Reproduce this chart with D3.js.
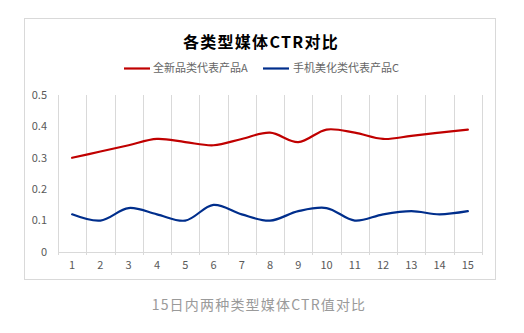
<!DOCTYPE html>
<html><head><meta charset="utf-8">
<script src="https://cdn.jsdelivr.net/npm/d3@7"></script>
<style>body{margin:0;background:#fff;}svg{display:block;}</style>
</head><body>
<script>
const categories = ["1","2","3","4","5","6","7","8","9","10","11","12","13","14","15"];
const seriesA = [0.30,0.32,0.34,0.36,0.35,0.34,0.36,0.38,0.35,0.39,0.38,0.36,0.37,0.38,0.39];
const seriesC = [0.12,0.10,0.14,0.12,0.10,0.15,0.12,0.10,0.13,0.14,0.10,0.12,0.13,0.12,0.13];
const seriesNames = ["全新品类代表产品A","手机美化类代表产品C"];
const yTicks = [0,0.1,0.2,0.3,0.4,0.5];
const title = "各类型媒体CTR对比";
const caption = "15日内两种类型媒体CTR值对比";
const colors = ["#C00000","#002E8C"];

const W=524,H=333;
const svg=d3.select("body").append("svg").attr("width",W).attr("height",H);
const font="'Microsoft YaHei','Noto Sans CJK SC',sans-serif";
svg.append("rect").attr("x",24.5).attr("y",18.5).attr("width",471).attr("height",261)
  .attr("fill","#fff").attr("stroke","#d9d9d9");

const plot={left:58,right:482,top:95,bottom:252};
const x=d3.scaleBand().domain(categories).range([plot.left,plot.right]);
const y=d3.scaleLinear().domain([0,0.5]).range([plot.bottom,plot.top]);

// vertical gridlines at category boundaries
const bounds=categories.map(c=>x(c)).concat([plot.right]);
svg.append("g").selectAll("line").data(bounds).join("line")
  .attr("x1",d=>Math.round(d)+0.5).attr("x2",d=>Math.round(d)+0.5)
  .attr("y1",plot.top).attr("y2",plot.bottom+3)
  .attr("stroke","#d9d9d9").attr("stroke-width",1);
svg.append("line").attr("x1",plot.left).attr("x2",plot.right)
  .attr("y1",plot.bottom+0.5).attr("y2",plot.bottom+0.5).attr("stroke","#d9d9d9");

// y labels
svg.append("g").selectAll("text").data(yTicks).join("text")
  .attr("x",47).attr("y",d=>y(d)).attr("dy","0.35em").attr("text-anchor","end")
  .attr("font-family",font).attr("font-size",11).attr("fill","#595959")
  .text(d=>d===0?"0":d3.format(".1f")(d));
// x labels
svg.append("g").selectAll("text").data(categories).join("text")
  .attr("x",d=>x(d)+x.bandwidth()/2).attr("y",265).attr("dy","0.35em").attr("text-anchor","middle")
  .attr("font-family",font).attr("font-size",11).attr("fill","#595959")
  .text(d=>d);

const line=d3.line().x((d,i)=>x(categories[i])+x.bandwidth()/2).y(d=>y(d)).curve(d3.curveCatmullRom.alpha(0.5));
[seriesA,seriesC].forEach((s,i)=>{
  svg.append("path").datum(s).attr("d",line).attr("fill","none")
    .attr("stroke",colors[i]).attr("stroke-width",2.2).attr("stroke-linecap","round");
});

// title
svg.append("text").attr("x",261).attr("y",42).attr("dy","0.35em").attr("text-anchor","middle")
  .attr("font-family",font).attr("font-size",16).attr("font-weight","bold").attr("letter-spacing","1.3px")
  .attr("fill","#000").text(title);

// legend
const leg=[{x0:124,tx:153},{x0:263,tx:293}];
leg.forEach((l,i)=>{
  svg.append("line").attr("x1",l.x0).attr("x2",l.x0+26).attr("y1",68.5).attr("y2",68.5)
    .attr("stroke",colors[i]).attr("stroke-width",2.2);
  svg.append("text").attr("x",l.tx).attr("y",68).attr("dy","0.35em")
    .attr("font-family",font).attr("font-size",11).attr("fill","#666").text(seriesNames[i]);
});

// caption
svg.append("text").attr("x",259).attr("y",305).attr("dy","0.35em").attr("text-anchor","middle")
  .attr("font-family",font).attr("font-size",14).attr("letter-spacing","1.2px")
  .attr("fill","#9a9a9a").text(caption);
</script>
</body></html>
